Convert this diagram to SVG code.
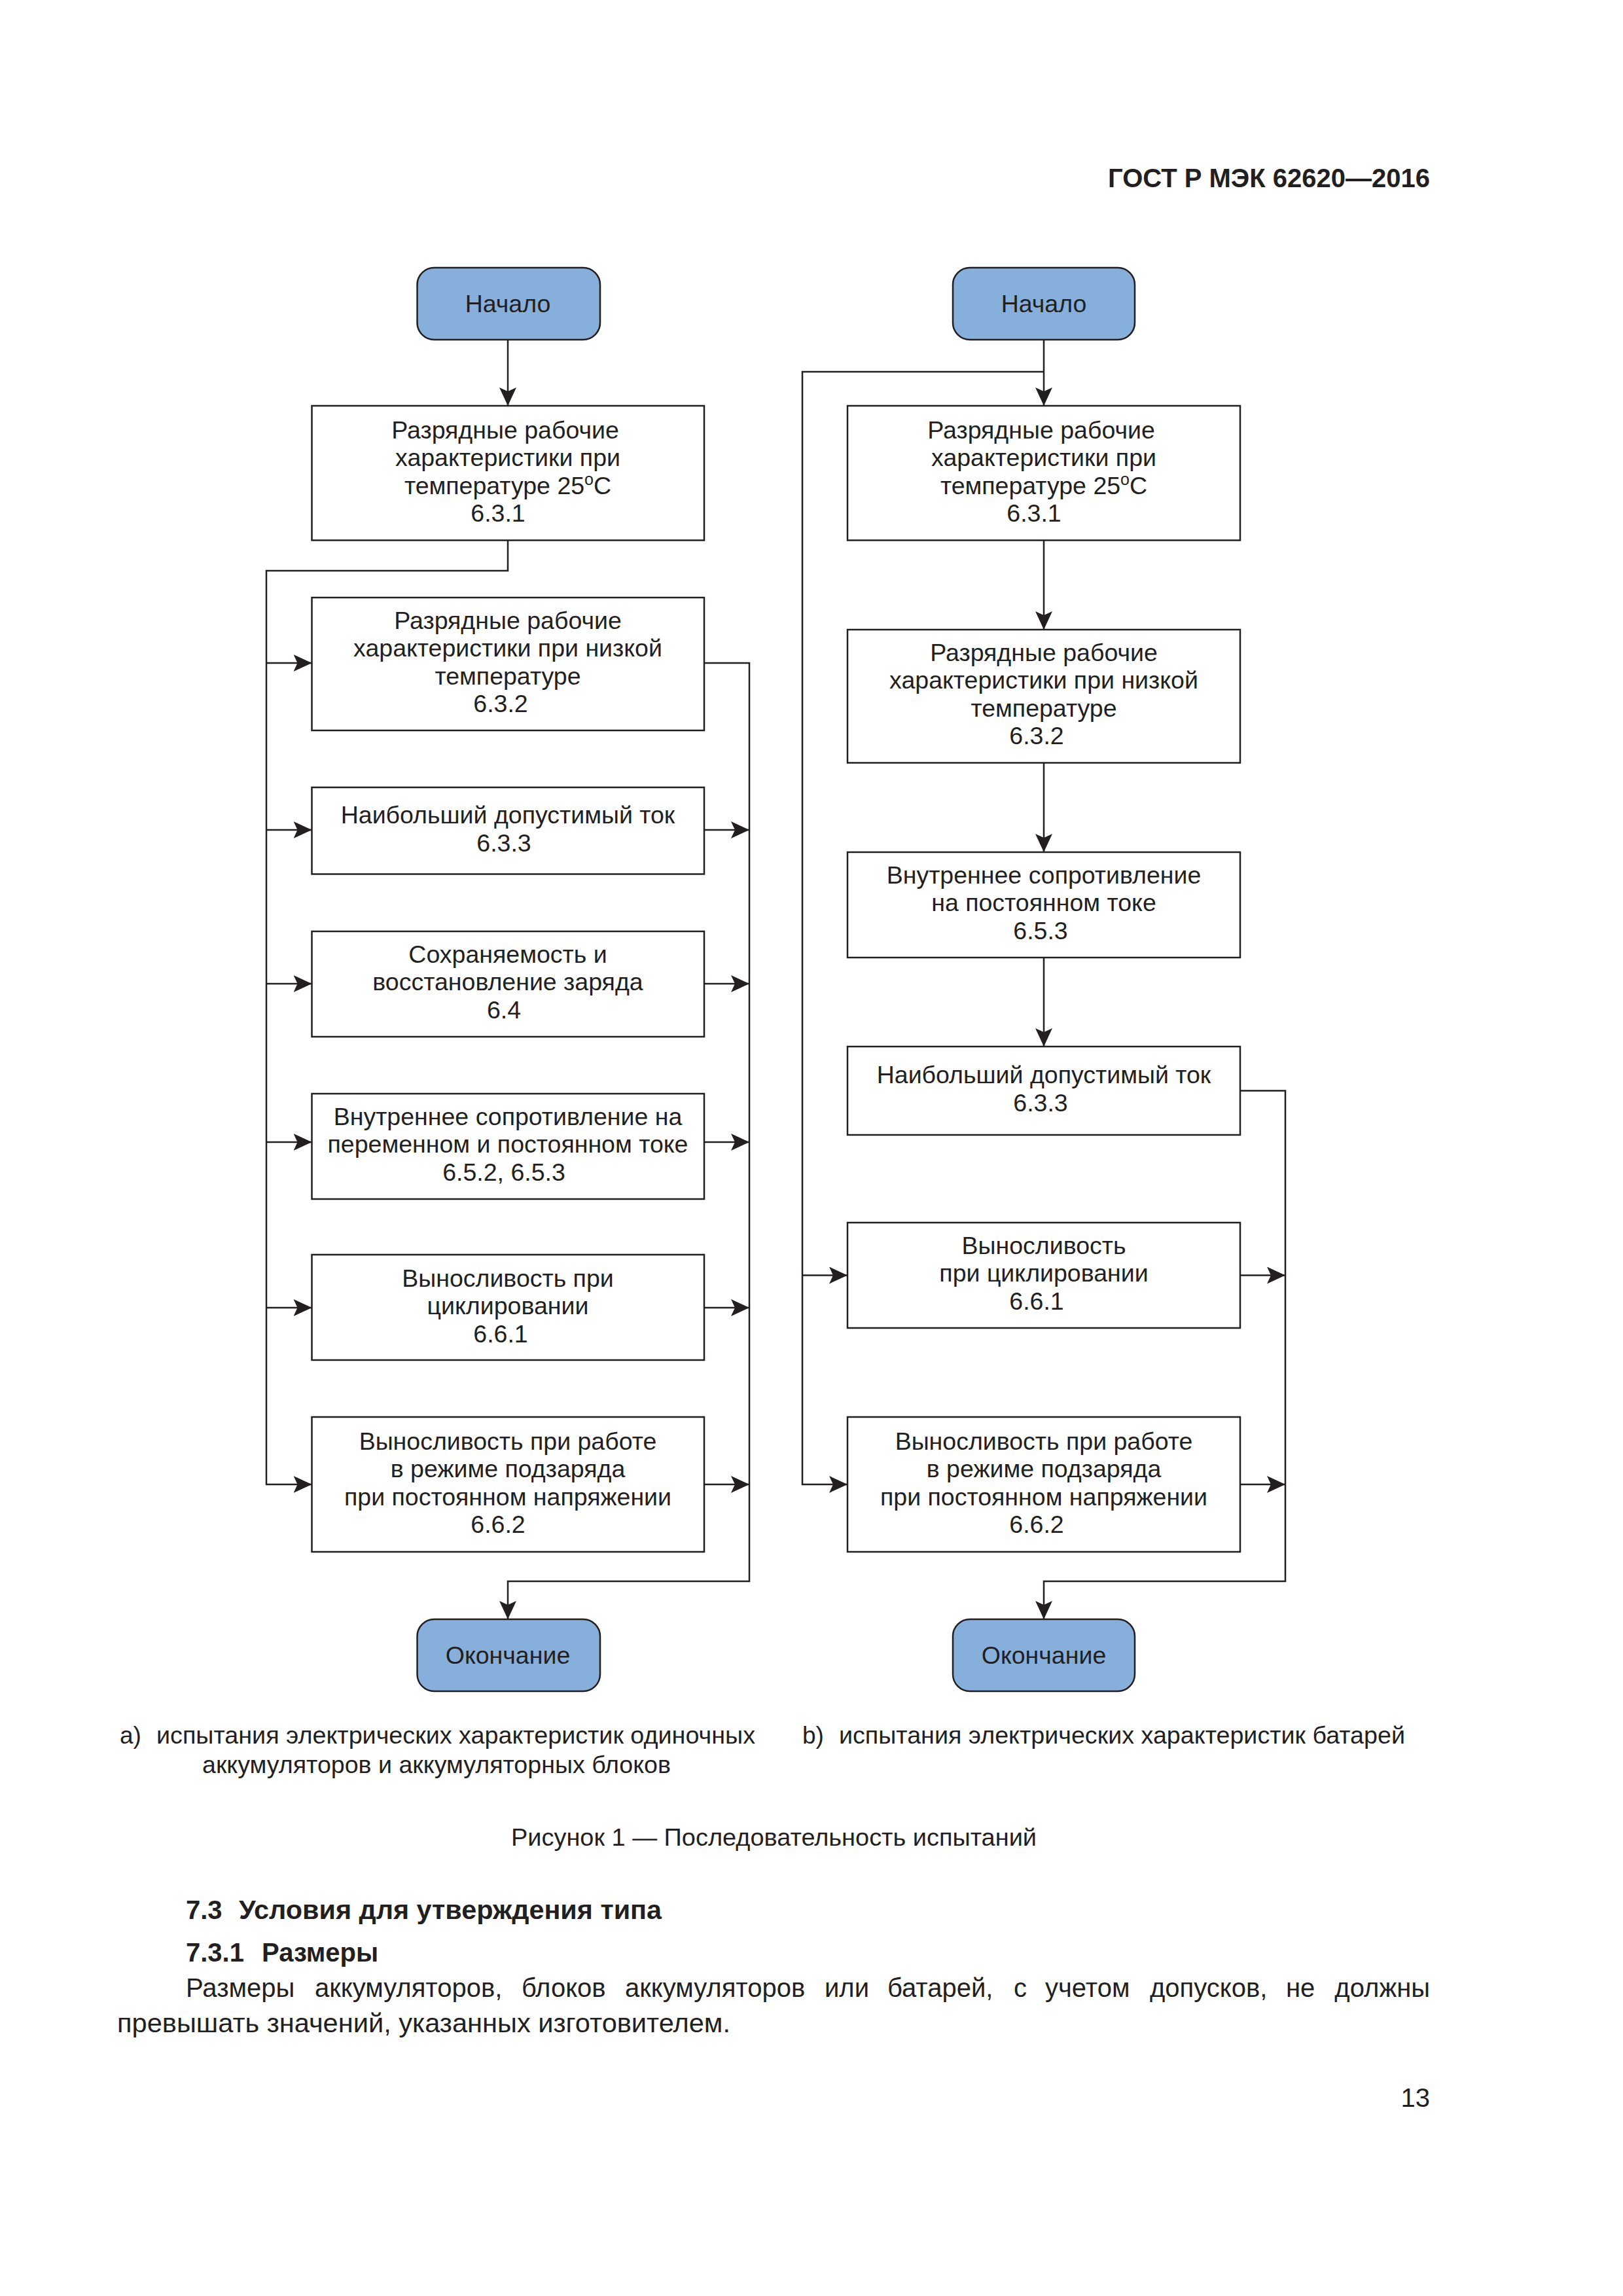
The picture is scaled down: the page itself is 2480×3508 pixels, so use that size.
<svg xmlns="http://www.w3.org/2000/svg" width="2480" height="3508" viewBox="0 0 2480 3508">
<style>
.bg{fill:#ffffff}
.term{fill:#87AFDC;stroke:#231F20;stroke-width:2.5}
.box{fill:#ffffff;stroke:#231F20;stroke-width:2.5}
.t{font-family:"Liberation Sans",Arial,sans-serif;font-size:37.5px;fill:#231F20;text-anchor:middle}
.cap{font-family:"Liberation Sans",Arial,sans-serif;font-size:37px;fill:#231F20}
.body{font-family:"Liberation Sans",Arial,sans-serif;font-size:40px;fill:#231F20}
.bold{font-family:"Liberation Sans",Arial,sans-serif;font-size:40px;font-weight:bold;fill:#231F20}
.conn{fill:none;stroke:#231F20;stroke-width:2.5}
.arr{marker-end:url(#ah)}
</style>
<defs>
<marker id="ah" markerWidth="30" markerHeight="26" refX="28" refY="13" orient="auto" markerUnits="userSpaceOnUse">
<path d="M0,0 L28,13 L0,26 L6,13 z" fill="#231F20"/>
</marker>
</defs>
<rect class="bg" x="0" y="0" width="2480" height="3508"/>

<text class="bold" x="2185" y="286" text-anchor="end" font-size="43">ГОСТ Р МЭК 62620—2016</text>

<g id="connectors">
<!-- left column -->
<path class="conn arr" d="M776,519 V620"/>
<path class="conn arr" d="M776,825.5 V872 H407 V2268 H476.5"/>
<path class="conn arr" d="M407,1013 H476.5"/>
<path class="conn arr" d="M407,1268 H476.5"/>
<path class="conn arr" d="M407,1503 H476.5"/>
<path class="conn arr" d="M407,1745 H476.5"/>
<path class="conn arr" d="M407,1998 H476.5"/>
<path class="conn arr" d="M1076,1013 H1145 V2416 H776 V2474"/>
<path class="conn arr" d="M1076,1268 H1145"/>
<path class="conn arr" d="M1076,1503 H1145"/>
<path class="conn arr" d="M1076,1745 H1145"/>
<path class="conn arr" d="M1076,1998 H1145"/>
<path class="conn arr" d="M1076,2268 H1145"/>
<!-- right column -->
<path class="conn arr" d="M1595,519 V620"/>
<path class="conn arr" d="M1595,568 H1226 V2268 H1295"/>
<path class="conn arr" d="M1226,1948.5 H1295"/>
<path class="conn arr" d="M1595,825.5 V962"/>
<path class="conn arr" d="M1595,1165.5 V1302"/>
<path class="conn arr" d="M1595,1463 V1599"/>
<path class="conn arr" d="M1895,1666.5 H1964 V2416 H1595 V2474"/>
<path class="conn arr" d="M1895,1948.5 H1964"/>
<path class="conn arr" d="M1895,2268 H1964"/>
</g>

<!-- Left column nodes -->
<g id="a-start">
<rect class="term" x="637.5" y="409" width="279.5" height="110" rx="26"/>
<text class="t" x="776" y="477">Начало</text>
</g>
<g id="a-631">
<rect class="box" x="476.5" y="620" width="599.5" height="205.5"/>
<text class="t" x="772" y="670">Разрядные рабочие</text>
<text class="t" x="776" y="712">характеристики при</text>
<text class="t" x="776" y="755">температуре 25<tspan font-size="25" dy="-14">o</tspan><tspan dy="14">C</tspan></text>
<text class="t" x="761" y="797">6.3.1</text>
</g>
<g id="a-632">
<rect class="box" x="476.5" y="913" width="599.5" height="203"/>
<text class="t" x="776" y="961">Разрядные рабочие</text>
<text class="t" x="776" y="1003">характеристики при низкой</text>
<text class="t" x="776" y="1046">температуре</text>
<text class="t" x="765" y="1088">6.3.2</text>
</g>
<g id="a-633">
<rect class="box" x="476.5" y="1203" width="599.5" height="132.5"/>
<text class="t" x="776" y="1258">Наибольший допустимый ток</text>
<text class="t" x="770" y="1301">6.3.3</text>
</g>
<g id="a-64">
<rect class="box" x="476.5" y="1423" width="599.5" height="161"/>
<text class="t" x="776" y="1471">Сохраняемость и</text>
<text class="t" x="776" y="1513">восстановление заряда</text>
<text class="t" x="770" y="1556">6.4</text>
</g>
<g id="a-652">
<rect class="box" x="476.5" y="1671" width="599.5" height="161"/>
<text class="t" x="776" y="1719">Внутреннее сопротивление на</text>
<text class="t" x="776" y="1761">переменном и постоянном токе</text>
<text class="t" x="770" y="1804">6.5.2, 6.5.3</text>
</g>
<g id="a-661">
<rect class="box" x="476.5" y="1917" width="599.5" height="161"/>
<text class="t" x="776" y="1966">Выносливость при</text>
<text class="t" x="776" y="2008">циклировании</text>
<text class="t" x="765" y="2051">6.6.1</text>
</g>
<g id="a-662">
<rect class="box" x="476.5" y="2165" width="599.5" height="206"/>
<text class="t" x="776" y="2215">Выносливость при работе</text>
<text class="t" x="776" y="2257">в режиме подзаряда</text>
<text class="t" x="776" y="2300">при постоянном напряжении</text>
<text class="t" x="761" y="2342">6.6.2</text>
</g>
<g id="a-end">
<rect class="term" x="637.5" y="2474" width="279.5" height="110" rx="26"/>
<text class="t" x="776" y="2542">Окончание</text>
</g>

<!-- Right column nodes -->
<g id="b-start">
<rect class="term" x="1456" y="409" width="278" height="110" rx="26"/>
<text class="t" x="1595" y="477">Начало</text>
</g>
<g id="b-631">
<rect class="box" x="1295" y="620" width="600" height="205.5"/>
<text class="t" x="1591" y="670">Разрядные рабочие</text>
<text class="t" x="1595" y="712">характеристики при</text>
<text class="t" x="1595" y="755">температуре 25<tspan font-size="25" dy="-14">o</tspan><tspan dy="14">C</tspan></text>
<text class="t" x="1580" y="797">6.3.1</text>
</g>
<g id="b-632">
<rect class="box" x="1295" y="962" width="600" height="203.5"/>
<text class="t" x="1595" y="1010">Разрядные рабочие</text>
<text class="t" x="1595" y="1052">характеристики при низкой</text>
<text class="t" x="1595" y="1095">температуре</text>
<text class="t" x="1584" y="1137">6.3.2</text>
</g>
<g id="b-653">
<rect class="box" x="1295" y="1302" width="600" height="161"/>
<text class="t" x="1595" y="1350">Внутреннее сопротивление</text>
<text class="t" x="1595" y="1392">на постоянном токе</text>
<text class="t" x="1590" y="1435">6.5.3</text>
</g>
<g id="b-633">
<rect class="box" x="1295" y="1599" width="600" height="135"/>
<text class="t" x="1595" y="1655">Наибольший допустимый ток</text>
<text class="t" x="1590" y="1698">6.3.3</text>
</g>
<g id="b-661">
<rect class="box" x="1295" y="1868" width="600" height="161"/>
<text class="t" x="1595" y="1916">Выносливость</text>
<text class="t" x="1595" y="1958">при циклировании</text>
<text class="t" x="1584" y="2001">6.6.1</text>
</g>
<g id="b-662">
<rect class="box" x="1295" y="2165" width="600" height="206"/>
<text class="t" x="1595" y="2215">Выносливость при работе</text>
<text class="t" x="1595" y="2257">в режиме подзаряда</text>
<text class="t" x="1595" y="2300">при постоянном напряжении</text>
<text class="t" x="1584" y="2342">6.6.2</text>
</g>
<g id="b-end">
<rect class="term" x="1456" y="2474" width="278" height="110" rx="26"/>
<text class="t" x="1595" y="2542">Окончание</text>
</g>

<!-- captions -->
<text class="cap" y="2664"><tspan x="183">a)</tspan><tspan x="239" textLength="915" lengthAdjust="spacingAndGlyphs">испытания электрических характеристик одиночных</tspan></text>
<text class="cap" x="309" y="2709" textLength="716" lengthAdjust="spacingAndGlyphs">аккумуляторов и аккумуляторных блоков</text>
<text class="cap" y="2664"><tspan x="1226">b)</tspan><tspan x="1282" textLength="865" lengthAdjust="spacingAndGlyphs">испытания электрических характеристик батарей</tspan></text>
<text class="cap" x="781" y="2820" textLength="803" lengthAdjust="spacingAndGlyphs">Рисунок 1 — Последовательность испытаний</text>

<text class="bold" y="2932"><tspan x="284">7.3</tspan><tspan x="365" textLength="646" lengthAdjust="spacingAndGlyphs">Условия для утверждения типа</tspan></text>
<text class="bold" y="2997"><tspan x="284">7.3.1</tspan><tspan x="400">Размеры</tspan></text>
<text class="body" y="3051"><tspan x="284">Размеры</tspan><tspan x="481">аккумуляторов,</tspan><tspan x="797">блоков</tspan><tspan x="955">аккумуляторов</tspan><tspan x="1260">или</tspan><tspan x="1356">батарей,</tspan><tspan x="1549">с</tspan><tspan x="1597">учетом</tspan><tspan x="1757">допусков,</tspan><tspan x="1965">не</tspan><tspan x="2185" text-anchor="end">должны</tspan></text>
<text class="body" x="179" y="3105" textLength="937" lengthAdjust="spacingAndGlyphs">превышать значений, указанных изготовителем.</text>
<text class="body" x="2185" y="3219" text-anchor="end">13</text>
</svg>
